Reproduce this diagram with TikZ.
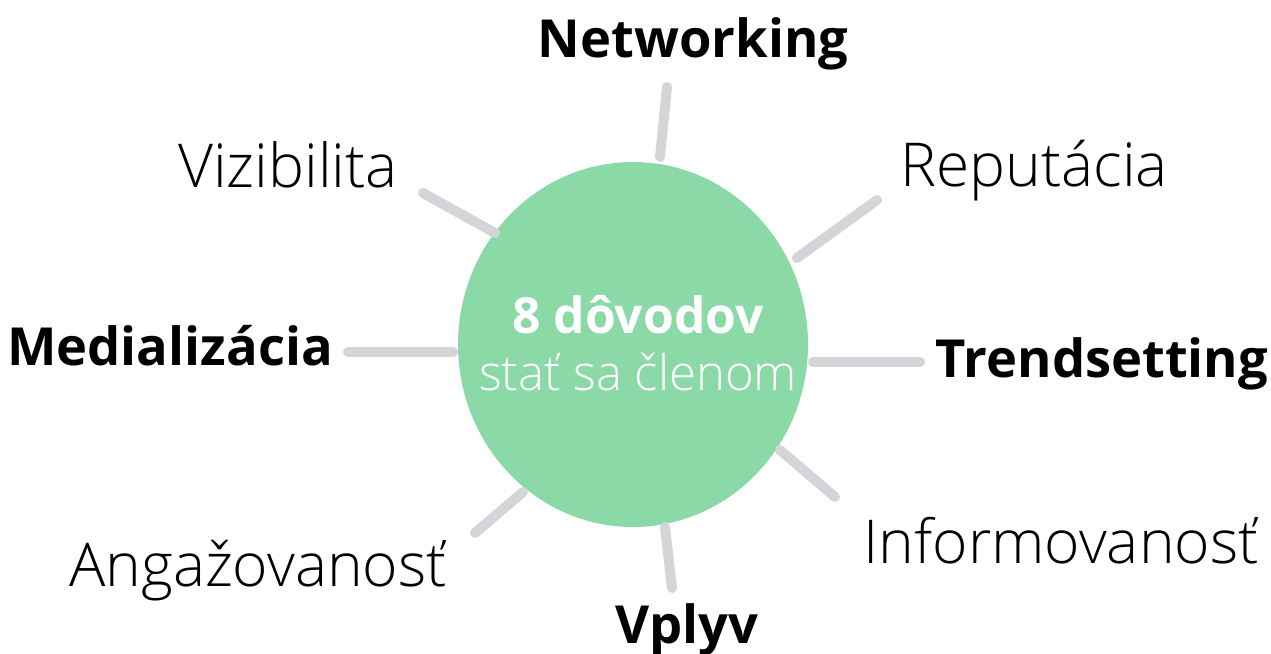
\documentclass[tikz,border=0pt]{standalone}
\usepackage{fontspec}
\setmainfont{Open Sans}
\newfontfamily\lightfont{Open Sans Light}
\usepackage{tikz}

\definecolor{hubgreen}{HTML}{8AD9A7}
\definecolor{spokegray}{HTML}{D5D4D9}

\tikzset{
  spoke/.style={draw=spokegray, line width=10pt, line cap=round},
  boldlabel/.style={anchor=base, inner sep=0pt, font=\fontsize{52.5}{56}\selectfont\bfseries},
  lightlabel/.style={anchor=base, inner sep=0pt, font=\fontsize{60.5}{64}\lightfont},
}

\begin{document}
\begin{tikzpicture}[x=1pt,y=-1pt]
		\useasboundingbox (0,0) rectangle (1271,653);

		% hub
		\fill[hubgreen] (633,344.5) ellipse (175 and 182.5);
		\node[boldlabel, text=white, font=\fontsize{49.8}{54}\selectfont\bfseries] (title) at (638,333) {8 dôvodov};
		\node[lightlabel, text=white, font=\fontsize{49}{54}\lightfont] (subtitle) at (638,390) {stať sa členom};

		% labels
		\node[boldlabel] (networking) at (693,57) {Networking};
		\node[lightlabel] (vizibilita) at (288,187) {Vizibilita};
		\node[lightlabel] (reputacia) at (1034,186) {Reputácia};
		\node[boldlabel] (medializacia) at (170,365) {Medializácia};
		\node[boldlabel] (trendsetting) at (1102,377) {Trendsetting};
		\node[lightlabel] (informovanost) at (1061,563) {Informovanosť};
		\node[lightlabel] (angazovanost) at (258,586) {Angažovanosť};
		\node[boldlabel] (vplyv) at (687,643) {Vplyv};

		% spoke ends
		\coordinate (n1) at (667,87);   \coordinate (n2) at (660,157);
		\coordinate (v1) at (423,193);  \coordinate (v2) at (495,233);
		\coordinate (r1) at (877,200);  \coordinate (r2) at (797,258);
		\coordinate (m1) at (348,352);  \coordinate (m2) at (453,352);
		\coordinate (t1) at (813,362);  \coordinate (t2) at (920,362);
		\coordinate (i1) at (780,450);  \coordinate (i2) at (835,497);
		\coordinate (p1) at (665,527);  \coordinate (p2) at (672,588);
		\coordinate (a1) at (523,492);  \coordinate (a2) at (475,533);

		\foreach \s in {n,v,r,m,t,i,p,a}
			\draw[spoke] (\s1) -- (\s2);
		\end{tikzpicture}
\end{document}
